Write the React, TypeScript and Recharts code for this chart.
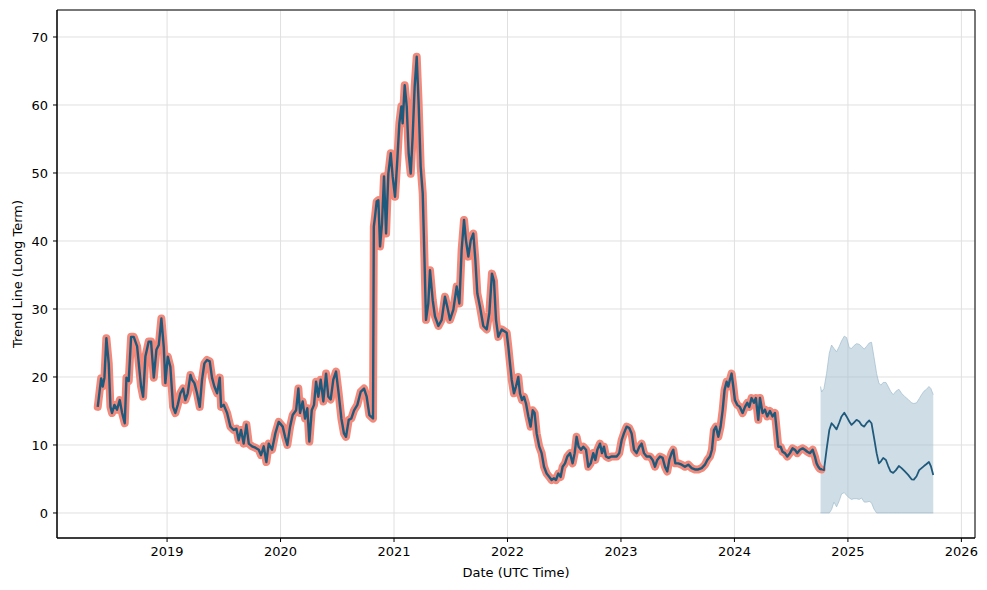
import React from 'react';
import { ComposedChart, Line, Area, XAxis, YAxis, CartesianGrid, ReferenceArea } from 'recharts';

const historyDates = [
  2018.389, 2018.419, 2018.433, 2018.448, 2018.465, 2018.486, 2018.501, 2018.515, 2018.536, 2018.559,
  2018.583, 2018.604, 2018.627, 2018.642, 2018.662, 2018.683, 2018.706, 2018.736, 2018.771, 2018.789,
  2018.809, 2018.838, 2018.859, 2018.883, 2018.906, 2018.927, 2018.950, 2018.971, 2018.985, 2019.006,
  2019.029, 2019.053, 2019.073, 2019.094, 2019.117, 2019.141, 2019.161, 2019.182, 2019.206, 2019.220,
  2019.241, 2019.264, 2019.288, 2019.308, 2019.329, 2019.352, 2019.376, 2019.396, 2019.417, 2019.441,
  2019.464, 2019.476, 2019.499, 2019.529, 2019.558, 2019.587, 2019.611, 2019.631, 2019.652, 2019.675,
  2019.699, 2019.720, 2019.749, 2019.778, 2019.808, 2019.828, 2019.852, 2019.875, 2019.896, 2019.925,
  2019.954, 2019.984, 2020.019, 2020.040, 2020.060, 2020.084, 2020.107, 2020.137, 2020.157, 2020.172,
  2020.195, 2020.216, 2020.236, 2020.254, 2020.275, 2020.295, 2020.313, 2020.333, 2020.354, 2020.377,
  2020.401, 2020.421, 2020.442, 2020.465, 2020.489, 2020.512, 2020.536, 2020.559, 2020.577, 2020.601,
  2020.624, 2020.648, 2020.677, 2020.706, 2020.736, 2020.759, 2020.783, 2020.815, 2020.822, 2020.833,
  2020.847, 2020.862, 2020.877, 2020.894, 2020.912, 2020.930, 2020.950, 2020.971, 2020.988, 2021.009,
  2021.029, 2021.047, 2021.065, 2021.076, 2021.094, 2021.112, 2021.129, 2021.147, 2021.164, 2021.182,
  2021.200, 2021.217, 2021.235, 2021.253, 2021.267, 2021.282, 2021.302, 2021.317, 2021.341, 2021.361,
  2021.391, 2021.420, 2021.449, 2021.470, 2021.493, 2021.523, 2021.552, 2021.576, 2021.596, 2021.617,
  2021.634, 2021.655, 2021.676, 2021.699, 2021.717, 2021.734, 2021.758, 2021.787, 2021.817, 2021.840,
  2021.863, 2021.881, 2021.899, 2021.919, 2021.949, 2021.993, 2022.007, 2022.022, 2022.037, 2022.057,
  2022.075, 2022.095, 2022.110, 2022.128, 2022.145, 2022.163, 2022.184, 2022.204, 2022.222, 2022.239,
  2022.257, 2022.280, 2022.301, 2022.322, 2022.345, 2022.369, 2022.389, 2022.410, 2022.427, 2022.448,
  2022.468, 2022.486, 2022.507, 2022.527, 2022.551, 2022.574, 2022.592, 2022.609, 2022.627, 2022.648,
  2022.668, 2022.692, 2022.712, 2022.733, 2022.756, 2022.774, 2022.792, 2022.815, 2022.833, 2022.850,
  2022.868, 2022.891, 2022.915, 2022.933, 2022.962, 2022.985, 2023.006, 2023.026, 2023.050, 2023.073,
  2023.094, 2023.115, 2023.138, 2023.162, 2023.182, 2023.203, 2023.226, 2023.256, 2023.279, 2023.300,
  2023.320, 2023.344, 2023.367, 2023.388, 2023.408, 2023.426, 2023.446, 2023.461, 2023.479, 2023.505,
  2023.535, 2023.564, 2023.593, 2023.623, 2023.652, 2023.681, 2023.711, 2023.740, 2023.761, 2023.784,
  2023.802, 2023.819, 2023.837, 2023.858, 2023.878, 2023.896, 2023.913, 2023.931, 2023.946, 2023.960,
  2023.975, 2023.990, 2024.004, 2024.025, 2024.048, 2024.072, 2024.093, 2024.113, 2024.131, 2024.151,
  2024.172, 2024.189, 2024.210, 2024.225, 2024.248, 2024.269, 2024.289, 2024.313, 2024.336, 2024.357,
  2024.372, 2024.386, 2024.407, 2024.424, 2024.445, 2024.466, 2024.489, 2024.512, 2024.533, 2024.554,
  2024.577, 2024.601, 2024.621, 2024.642, 2024.665, 2024.689, 2024.709, 2024.724, 2024.739, 2024.753,
  2024.768,
];

const historyValues = [
  15.6, 19.8, 18.6, 19.9, 25.7, 22.0, 15.6, 14.7, 15.9, 15.2,
  16.6, 14.7, 13.2, 19.9, 19.4, 25.9, 25.9, 24.5, 18.6, 17.1,
  23.0, 25.2, 25.2, 19.9, 24.0, 24.7, 28.6, 24.4, 19.1, 23.0,
  21.5, 15.6, 14.7, 15.9, 17.6, 18.3, 16.6, 17.6, 20.3, 19.6,
  19.1, 17.6, 15.6, 19.6, 22.0, 22.5, 22.3, 19.9, 18.6, 17.6,
  19.9, 15.6, 15.9, 14.7, 12.7, 12.2, 12.4, 10.7, 12.2, 10.2,
  13.0, 10.2, 9.8, 9.6, 9.3, 8.5, 9.8, 7.5, 10.2, 9.3,
  11.7, 13.4, 12.7, 11.2, 10.0, 12.7, 14.4, 15.1, 18.3, 14.7,
  16.4, 13.9, 15.4, 10.5, 15.1, 15.9, 19.3, 17.1, 19.6, 16.4,
  20.5, 17.1, 16.7, 19.6, 20.8, 17.6, 13.9, 11.7, 11.2, 13.7,
  13.9, 15.1, 15.9, 17.8, 18.3, 17.1, 14.4, 13.9, 42.1, 43.6,
  45.8, 46.0, 39.2, 42.5, 49.5, 41.1, 49.9, 52.9, 49.5, 46.5,
  51.9, 57.3, 59.8, 57.3, 62.9, 59.8, 52.9, 49.9, 55.3, 62.7,
  67.1, 60.2, 50.9, 47.0, 38.2, 28.4, 30.8, 35.7, 31.3, 28.9,
  27.5, 28.4, 31.8, 30.3, 28.4, 29.9, 33.3, 30.8, 38.7, 43.1,
  40.1, 37.7, 40.1, 41.1, 37.2, 32.3, 30.3, 27.5, 27.0, 29.4,
  35.2, 34.1, 28.4, 25.9, 27.0, 26.5, 24.5, 22.0, 19.6, 17.6,
  18.6, 20.0, 17.6, 16.6, 17.1, 16.1, 14.2, 12.7, 15.1, 14.7,
  11.7, 9.75, 8.8, 6.8, 5.8, 5.3, 4.85, 5.1, 4.85, 5.8,
  5.3, 6.8, 7.3, 8.3, 8.8, 7.3, 8.8, 11.2, 9.75, 9.3,
  9.75, 9.3, 6.8, 7.3, 8.8, 7.8, 9.3, 10.2, 8.8, 9.75,
  8.3, 8.1, 8.3, 8.3, 8.3, 8.8, 10.7, 11.7, 12.7, 12.5,
  11.7, 9.3, 8.8, 9.75, 10.2, 8.8, 8.3, 8.3, 7.8, 6.8,
  7.8, 8.3, 8.1, 6.8, 6.1, 7.8, 8.8, 9.3, 7.3, 7.3,
  7.1, 6.8, 7.1, 6.6, 6.4, 6.4, 6.6, 7.1, 7.8, 8.3,
  9.3, 12.2, 12.7, 11.2, 12.7, 15.1, 18.1, 19.3, 18.6, 19.6,
  20.5, 18.6, 16.6, 15.9, 15.6, 14.7, 15.6, 16.2, 15.6, 16.9,
  16.2, 16.9, 13.7, 16.9, 14.7, 15.2, 14.2, 15.0, 14.2, 14.7,
  12.2, 9.75, 9.75, 9.0, 8.8, 8.3, 8.8, 9.5, 9.3, 8.8,
  9.3, 9.5, 9.3, 9.0, 8.8, 9.3, 8.3, 7.3, 6.8, 6.5,
  6.4,
];

const forecastDates = [
  2024.759, 2024.768, 2024.789, 2024.812, 2024.836, 2024.856, 2024.877, 2024.900, 2024.924, 2024.944,
  2024.968, 2024.988, 2025.012, 2025.032, 2025.053, 2025.076, 2025.100, 2025.120, 2025.144, 2025.164,
  2025.188, 2025.208, 2025.229, 2025.253, 2025.273, 2025.291, 2025.311, 2025.335, 2025.355, 2025.376,
  2025.399, 2025.423, 2025.449, 2025.473, 2025.502, 2025.531, 2025.561, 2025.581, 2025.605, 2025.628,
  2025.649, 2025.670, 2025.693, 2025.714, 2025.731, 2025.752,
];

const forecastValues = [
  6.5, 6.4, 6.3, 9.3, 12.2, 13.2, 12.8, 12.3, 13.3, 14.2,
  14.75, 14.2, 13.45, 12.95, 13.3, 13.7, 13.45, 12.95, 12.7, 13.2,
  13.6, 13.2, 11.2, 8.8, 7.3, 7.6, 8.1, 7.8, 6.9, 6.1,
  5.9, 6.3, 6.9, 6.6, 6.1, 5.6, 4.95, 4.9, 5.4, 6.3,
  6.6, 6.9, 7.2, 7.5, 6.9, 5.6,
];

const bandLower = [
  0, 0, 0, 0, 0, 0.5, 1.6, 0.9, 1.8, 2.8,
  3.0, 2.6, 2.2, 2.0, 2.1, 2.1, 2.0, 2.2, 1.6, 1.6,
  1.7, 1.5, 0.6, 0, 0, 0, 0, 0, 0, 0,
  0, 0, 0, 0, 0, 0, 0, 0, 0, 0,
  0, 0, 0, 0, 0, 0,
];

const bandUpper = [
  18.6, 17.8, 18.3, 20.5, 23.5, 24.7, 24.2, 23.7, 24.5, 25.3,
  26.0, 25.8, 24.3, 24.2, 24.6, 24.9, 24.8, 24.5, 24.1, 24.5,
  25.0, 25.1, 23.0, 20.5, 19.1, 18.8, 19.2, 19.2, 18.6, 17.9,
  17.4, 17.9, 18.2, 17.6, 17.1, 16.7, 16.2, 16.1, 16.2, 16.8,
  17.4, 17.9, 18.2, 18.6, 18.3, 17.4,
];

const yearTicks = [2019, 2020, 2021, 2022, 2023, 2024, 2025, 2026];
const valueTicks = [0, 10, 20, 30, 40, 50, 60, 70];

const xLabel = 'Date (UTC Time)';
const yLabel = 'Trend Line (Long Term)';

const historyData = historyDates.map((x, i) => ({ x, v: historyValues[i] }));
const forecastData = forecastDates.map((x, i) => ({
  x,
  v: forecastValues[i],
  band: [bandLower[i], bandUpper[i]],
}));

const X_DOMAIN: [number, number] = [2018.03, 2026.12];
const Y_DOMAIN: [number, number] = [-3.68, 73.97];
const FONT = "'DejaVu Sans', sans-serif";
const tickStyle = { fill: '#000', fontSize: 13, fontFamily: FONT };

export default function App() {
  return (
    <div style={{ position: 'absolute', left: 0, top: 0, width: 987, height: 590, background: '#fff' }}>
      <ComposedChart
        width={987}
        height={590}
        margin={{ top: 10, right: 12, bottom: 0, left: 0 }}
        style={{ fontFamily: FONT }}
      >
        <CartesianGrid stroke="#e0e0e0" strokeWidth={1} />
        <XAxis
          dataKey="x"
          type="number"
          domain={X_DOMAIN}
          ticks={yearTicks}
          allowDataOverflow
          height={52}
          tickSize={4}
          tickMargin={5}
          tick={tickStyle}
          axisLine={{ stroke: '#000' }}
          tickLine={{ stroke: '#000' }}
        />
        <YAxis
          type="number"
          domain={Y_DOMAIN}
          ticks={valueTicks}
          allowDataOverflow
          width={57}
          tickSize={4}
          tickMargin={5}
          tick={tickStyle}
          axisLine={{ stroke: '#000' }}
          tickLine={{ stroke: '#000' }}
        />
        <ReferenceArea
          x1={X_DOMAIN[0]}
          x2={X_DOMAIN[1]}
          y1={Y_DOMAIN[0]}
          y2={Y_DOMAIN[1]}
          fill="none"
          fillOpacity={0}
          stroke="#000"
          strokeOpacity={1}
          strokeWidth={1}
          ifOverflow="extendDomain"
        />
        <Area
          data={forecastData}
          dataKey="band"
          type="linear"
          stroke="#9fbccd"
          strokeOpacity={0.7}
          strokeWidth={1}
          fill="#9fbccd"
          fillOpacity={0.5}
          isAnimationActive={false}
          dot={false}
          activeDot={false}
        />
        <Line
          data={historyData}
          dataKey="v"
          type="linear"
          stroke="#f2897a"
          strokeWidth={8}
          strokeLinejoin="round"
          strokeLinecap="round"
          dot={false}
          activeDot={false}
          isAnimationActive={false}
        />
        <Line
          data={historyData}
          dataKey="v"
          type="linear"
          stroke="#1f5a7c"
          strokeWidth={2.4}
          strokeLinejoin="round"
          dot={false}
          activeDot={false}
          isAnimationActive={false}
        />
        <Line
          data={forecastData}
          dataKey="v"
          type="linear"
          stroke="#1f5a7c"
          strokeWidth={1.8}
          strokeLinejoin="round"
          dot={false}
          activeDot={false}
          isAnimationActive={false}
        />
      </ComposedChart>
      <svg
        width={987}
        height={590}
        style={{ position: 'absolute', left: 0, top: 0, pointerEvents: 'none' }}
      >
        <text x={516} y={577} textAnchor="middle" fontSize={13} fontFamily={FONT} fill="#000">
          {xLabel}
        </text>
        <text
          x={0}
          y={0}
          transform="translate(21.5 274) rotate(-90)"
          textAnchor="middle"
          fontSize={13}
          fontFamily={FONT}
          fill="#000"
        >
          {yLabel}
        </text>
      </svg>
    </div>
  );
}
